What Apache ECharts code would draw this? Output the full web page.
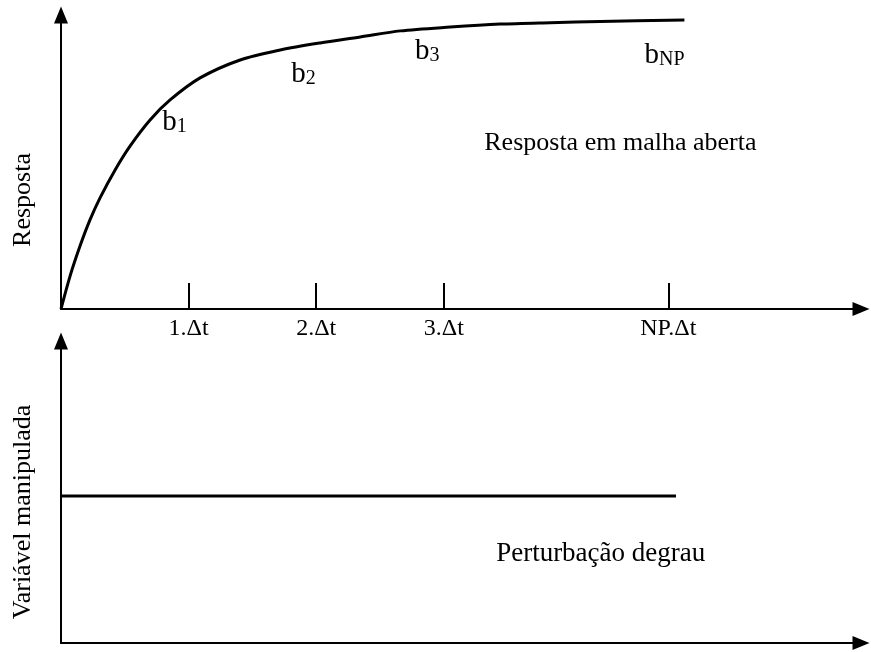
<!DOCTYPE html>
<html lang="pt">

<head>
    <meta charset="UTF-8">
    <title>Resposta ao degrau</title>
    <script src="https://cdn.jsdelivr.net/npm/echarts@6/dist/echarts.min.js"></script>
    <style>
        html, body { margin: 0; padding: 0; background: #fff; }
        #chart { width: 871px; height: 652px; }
    </style>
</head>

<body>
    <div id="chart"></div>
    <script>
        // x em unidades de Δt, y normalizado (0..1 do eixo)
        var respX = [0, 0.071, 0.149, 0.227, 0.306, 0.424, 0.541, 0.698, 0.855, 1.090, 1.404, 1.718, 2.031, 2.345, 2.659, 3.051, 3.443, 3.835, 4.227, 4.886];
        var respY = [0, 0.112, 0.214, 0.303, 0.378, 0.473, 0.554, 0.643, 0.711, 0.786, 0.847, 0.881, 0.905, 0.925, 0.946, 0.959, 0.969, 0.974, 0.978, 0.983];

        var stepX = [0, 4.82];
        var stepY = [0.487, 0.487];

        var tickValues = [1, 2, 3, 4.76];
        var tickLabels = ['1.Δt', '2.Δt', '3.Δt', 'NP.Δt'];

        // anotações b1, b2, b3, bNP
        var coefSub = ['1', '2', '3', 'NP'];
        var coefX = [0.89, 1.90, 2.87, 4.73];
        var coefY = [0.641, 0.804, 0.881, 0.869];

        var serif = '"Liberation Serif", "Times New Roman", serif';
        var black = '#000';

        var chart = echarts.init(document.getElementById('chart'));

        var axisLine = {
            show: true,
            symbol: ['none', 'triangle'],
            symbolSize: [14, 17],
            lineStyle: { color: black, width: 2 }
        };

        var option = {
            backgroundColor: '#fff',
            animation: false,
            grid: [
                { left: 61, right: 10, top: 15, bottom: 343 },
                { left: 61, right: 10, top: 341, bottom: 9 }
            ],
            xAxis: [{
                gridIndex: 0,
                type: 'value',
                min: 0,
                max: 6.27,
                axisLine: axisLine,
                axisTick: {
                    show: true,
                    inside: true,
                    length: 26,
                    customValues: tickValues,
                    lineStyle: { color: black, width: 2 }
                },
                axisLabel: {
                    show: true,
                    customValues: tickValues,
                    margin: 8,
                    color: black,
                    fontFamily: serif,
                    fontSize: 24,
                    formatter: function(v) {
                        var i = tickValues.indexOf(v);
                        return i >= 0 ? tickLabels[i] : '';
                    }
                },
                splitLine: { show: false }
            }, {
                gridIndex: 1,
                type: 'value',
                min: 0,
                max: 6.27,
                axisLine: axisLine,
                axisTick: { show: false },
                axisLabel: { show: false },
                splitLine: { show: false }
            }],
            yAxis: [{
                gridIndex: 0,
                type: 'value',
                min: 0,
                max: 1,
                axisLine: axisLine,
                axisTick: { show: false },
                axisLabel: { show: false },
                splitLine: { show: false }
            }, {
                gridIndex: 1,
                type: 'value',
                min: 0,
                max: 1,
                axisLine: axisLine,
                axisTick: { show: false },
                axisLabel: { show: false },
                splitLine: { show: false }
            }],
            graphic: [{
                type: 'text',
                x: 23,
                y: 200,
                rotation: Math.PI / 2,
                style: { text: 'Resposta', font: '26px ' + serif, fill: black, align: 'center', verticalAlign: 'middle' }
            }, {
                type: 'text',
                x: 23,
                y: 512,
                rotation: Math.PI / 2,
                style: { text: 'Variável manipulada', font: '26px ' + serif, fill: black, align: 'center', verticalAlign: 'middle' }
            }],
            series: [{
                // resposta em malha aberta
                type: 'line',
                xAxisIndex: 0,
                yAxisIndex: 0,
                data: respX.map(function(x, i) { return [x, respY[i]]; }),
                smooth: 0.3,
                showSymbol: false,
                lineStyle: { color: black, width: 3 }
            }, {
                // perturbação degrau
                type: 'line',
                xAxisIndex: 1,
                yAxisIndex: 1,
                data: stepX.map(function(x, i) { return [x, stepY[i]]; }),
                showSymbol: false,
                lineStyle: { color: black, width: 3 }
            }, {
                type: 'scatter',
                xAxisIndex: 0,
                yAxisIndex: 0,
                symbolSize: 0,
                itemStyle: { opacity: 1 },
                data: coefX.map(function(x, i) { return { value: [x, coefY[i]], sub: coefSub[i] }; }),
                label: {
                    show: true,
                    position: 'inside',
                    formatter: function(p) { return '{b|b}{s|' + p.data.sub + '}'; },
                    rich: {
                        b: { fontFamily: serif, fontSize: 29, color: black, lineHeight: 32, verticalAlign: 'bottom' },
                        s: { fontFamily: serif, fontSize: 20, color: black, lineHeight: 18, verticalAlign: 'bottom' }
                    }
                }
            }, {
                type: 'scatter',
                xAxisIndex: 0,
                yAxisIndex: 0,
                symbolSize: 0,
                itemStyle: { opacity: 1 },
                data: [[4.384, 0.565]],
                label: {
                    show: true,
                    position: 'inside',
                    formatter: 'Resposta em malha aberta',
                    fontFamily: serif,
                    fontSize: 26,
                    color: black
                }
            }, {
                type: 'scatter',
                xAxisIndex: 1,
                yAxisIndex: 1,
                symbolSize: 0,
                itemStyle: { opacity: 1 },
                data: [[4.23, 0.295]],
                label: {
                    show: true,
                    position: 'inside',
                    formatter: 'Perturbação degrau',
                    fontFamily: serif,
                    fontSize: 27,
                    color: black
                }
            }]
        };

        chart.setOption(option);
    </script>
</body>

</html>
